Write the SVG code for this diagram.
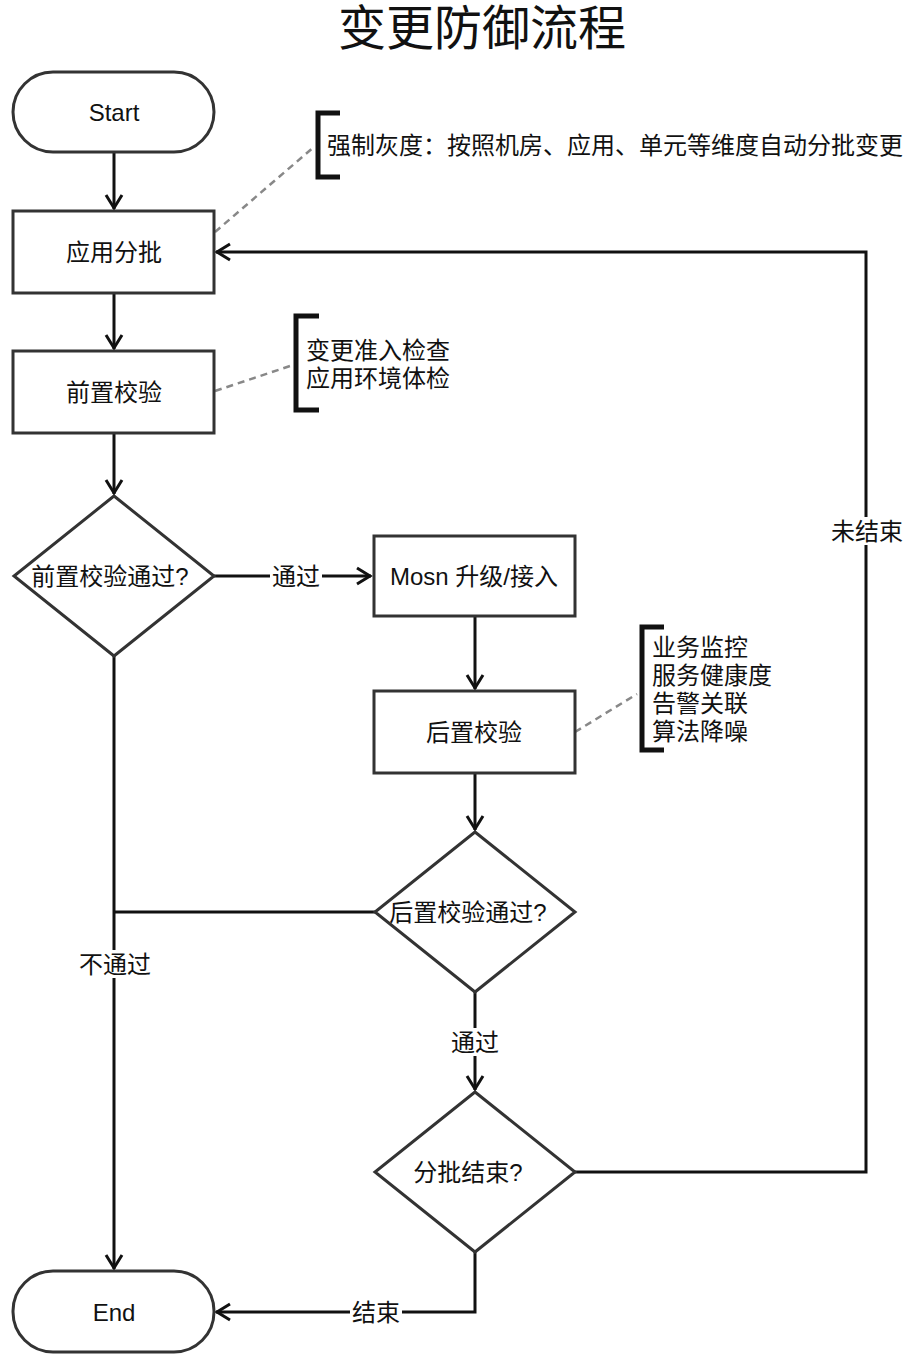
<svg xmlns="http://www.w3.org/2000/svg" width="914" height="1360" viewBox="0 0 914 1360">
<style>
text{font-family:"Liberation Sans","Noto Sans CJK SC",sans-serif;fill:#111}
.t{font-size:24px;text-anchor:middle;dominant-baseline:central}
.a{font-size:24px;dominant-baseline:central}
.node{fill:#fff;stroke:#333;stroke-width:3}
.c{fill:none;stroke:#111;stroke-width:3}
.dash{fill:none;stroke:#888;stroke-width:2.5;stroke-dasharray:7 5}
.br{fill:none;stroke:#111;stroke-width:5}
.bg{fill:#fff}
</style>
<defs>
<marker id="arr" markerUnits="userSpaceOnUse" markerWidth="22" markerHeight="22" viewBox="-18 -11 22 22" refX="0" refY="0" orient="auto">
<path d="M-14,-8 L-1,0 L-14,8" fill="none" stroke="#111" stroke-width="3"/>
</marker>
</defs>
<rect width="914" height="1360" fill="#fff"/>
<text x="482" y="28" font-size="48" text-anchor="middle" dominant-baseline="central">变更防御流程</text>

<g id="connectors">
<line class="c" x1="114" y1="152" x2="114" y2="209" marker-end="url(#arr)"/>
<line class="c" x1="114" y1="293" x2="114" y2="349" marker-end="url(#arr)"/>
<line class="c" x1="114" y1="433" x2="114" y2="494" marker-end="url(#arr)"/>
<line class="c" x1="213" y1="576" x2="371" y2="576" marker-end="url(#arr)"/>
<line class="c" x1="475" y1="616" x2="475" y2="689" marker-end="url(#arr)"/>
<line class="c" x1="475" y1="773" x2="475" y2="830" marker-end="url(#arr)"/>
<polyline class="c" points="375,912 114,912"/>
<line class="c" x1="114" y1="656" x2="114" y2="1269" marker-end="url(#arr)"/>
<line class="c" x1="475" y1="992" x2="475" y2="1090" marker-end="url(#arr)"/>
<polyline class="c" points="574,1172 866,1172 866,252 216,252" marker-end="url(#arr)"/>
<polyline class="c" points="475,1252 475,1312 216,1312" marker-end="url(#arr)"/>
<line class="dash" x1="215" y1="232" x2="315" y2="146"/>
<line class="dash" x1="215" y1="391" x2="293" y2="365"/>
<line class="dash" x1="575" y1="732" x2="637" y2="694"/>
<rect class="bg" x="270" y="562" width="52" height="28"/>
<text class="t" x="296" y="576">通过</text>
<rect class="bg" x="449" y="1028" width="52" height="28"/>
<text class="t" x="475" y="1042">通过</text>
<rect class="bg" x="78" y="950" width="74" height="28"/>
<text class="t" x="115" y="964">不通过</text>
<rect class="bg" x="830" y="517" width="74" height="28"/>
<text class="t" x="867" y="531">未结束</text>
<rect class="bg" x="350" y="1298" width="52" height="28"/>
<text class="t" x="376" y="1312">结束</text>
</g>

<g id="start">
<rect class="node" x="13" y="72" width="201" height="80" rx="40"/>
<text class="t" x="114" y="112">Start</text>
</g>
<g id="apply-batch">
<rect class="node" x="13" y="211" width="201" height="82"/>
<text class="t" x="114" y="252">应用分批</text>
</g>
<g id="pre-check">
<rect class="node" x="13" y="351" width="201" height="82"/>
<text class="t" x="114" y="392">前置校验</text>
</g>
<g id="pre-pass">
<polygon class="node" points="114,496 214,576 114,656 14,576"/>
<text class="t" x="110" y="576">前置校验通过?</text>
</g>
<g id="mosn">
<rect class="node" x="374" y="536" width="201" height="80"/>
<text class="t" x="474" y="576">Mosn 升级/接入</text>
</g>
<g id="post-check">
<rect class="node" x="374" y="691" width="201" height="82"/>
<text class="t" x="474" y="732">后置校验</text>
</g>
<g id="post-pass">
<polygon class="node" points="475,832 575,912 475,992 375,912"/>
<text class="t" x="468" y="912">后置校验通过?</text>
</g>
<g id="batch-end">
<polygon class="node" points="475,1092 575,1172 475,1252 375,1172"/>
<text class="t" x="468" y="1172">分批结束?</text>
</g>
<g id="end">
<rect class="node" x="13" y="1271" width="201" height="81" rx="40"/>
<text class="t" x="114" y="1312">End</text>
</g>

<g id="note-gray">
<polyline class="br" points="340,113 318,113 318,177 340,177"/>
<text class="a" x="327" y="145">强制灰度：按照机房、应用、单元等维度自动分批变更</text>
</g>
<g id="note-pre">
<polyline class="br" points="319,316 296,316 296,410 319,410"/>
<text class="a" x="306" y="350">变更准入检查</text>
<text class="a" x="306" y="378">应用环境体检</text>
</g>
<g id="note-post">
<polyline class="br" points="664,627 642,627 642,750 664,750"/>
<text class="a" x="652" y="647">业务监控</text>
<text class="a" x="652" y="675">服务健康度</text>
<text class="a" x="652" y="731">算法降噪</text>
<text class="a" x="652" y="703">告警关联</text>
</g>
</svg>
